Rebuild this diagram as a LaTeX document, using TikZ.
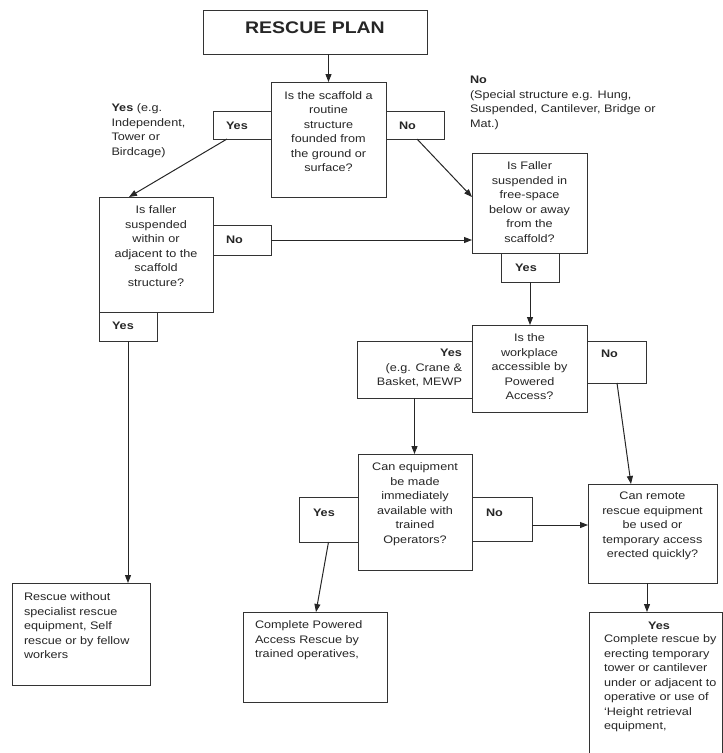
\documentclass[tikz,border=0pt]{standalone}
\usepackage{fontspec}
\setmainfont{Liberation Sans}[FakeStretch=1.16]
\usetikzlibrary{arrows.meta,calc}
\tikzset{
  bx/.style={draw=black!80, line width=1pt, rectangle, inner sep=0pt, outer sep=0pt, anchor=north west},
  txt/.style={inner sep=0pt, outer sep=0pt, text=black!85, font=\fontsize{10.9}{14.5}\selectfont},
  arr/.style={draw=black!85, line width=1pt, -{Triangle[length=8pt,width=6pt]}}
}
\newcommand{\mkbox}[5]{\node[bx, minimum width=#4pt-#2pt, minimum height=#5pt-#3pt] (#1) at (#2,#3) {};}
\begin{document}
\begin{tikzpicture}[x=1pt,y=-1pt]
\useasboundingbox (0,0) rectangle (723,753);
% boxes
\mkbox{title}{203}{10}{427}{54}
\mkbox{q1}{271}{82}{386}{197}
\mkbox{q1yes}{213}{111}{271}{139}
\mkbox{q1no}{386}{111}{444}{139}
\mkbox{q2}{99}{197}{213}{312}
\mkbox{q2no}{213}{225}{271}{255}
\mkbox{q2yes}{99}{312}{157}{341}
\mkbox{q3}{472}{153}{587}{253}
\mkbox{q3yes}{501}{253}{559}{282}
\mkbox{q4}{472}{325}{587}{412}
\mkbox{q4yes}{357}{341}{472}{398}
\mkbox{q4no}{587}{341}{646}{383}
\mkbox{q5}{358}{454}{472}{570}
\mkbox{q5yes}{299}{497}{358}{542}
\mkbox{q5no}{472}{497}{532}{541}
\mkbox{q6}{588}{484}{717}{583}
\mkbox{r1}{12}{583}{150}{685}
\mkbox{r2}{243}{612}{387}{702}
\mkbox{r3}{589}{612}{722}{756}
% texts
\node[txt, anchor=base, font=\fontsize{16.8}{18}\selectfont\bfseries] (titlet) at (315,33) {RESCUE PLAN};
\node[txt, anchor=north, align=center] (q1t) at (328.5,91.5) {Is the scaffold a\\routine\\structure\\founded from\\the ground or\\surface?};
\node[txt, anchor=base west] (q1yest) at (226,129) {\bfseries Yes};
\node[txt, anchor=base west] (q1not) at (399,129) {\bfseries No};
\node[txt, anchor=north, align=center] (q2t) at (156,206) {Is faller\\suspended\\within or\\adjacent to the\\scaffold\\structure?};
\node[txt, anchor=base west] (q2not) at (226,243.5) {\bfseries No};
\node[txt, anchor=base west] (q2yest) at (112,329) {\bfseries Yes};
\node[txt, anchor=north, align=center] (q3t) at (529.5,162) {Is Faller\\suspended in\\free-space\\below or away\\from the\\scaffold?};
\node[txt, anchor=base west] (q3yest) at (515,271) {\bfseries Yes};
\node[txt, anchor=north, align=center] (q4t) at (529.5,334) {Is the\\workplace\\accessible by\\Powered\\Access?};
\node[txt, anchor=north east, align=right] (q4yest) at (462,349) {\textbf{Yes}\\(e.g. Crane \&\\Basket, MEWP};
\node[txt, anchor=base west] (q4not) at (601,357) {\bfseries No};
\node[txt, anchor=north, align=center] (q5t) at (415,463) {Can equipment\\be made\\immediately\\available with\\trained\\Operators?};
\node[txt, anchor=base west] (q5yest) at (313,516) {\bfseries Yes};
\node[txt, anchor=base west] (q5not) at (486,516) {\bfseries No};
\node[txt, anchor=north, align=center] (q6t) at (652.5,492) {Can remote\\rescue equipment\\be used or\\temporary access\\erected quickly?};
\node[txt, anchor=north west, align=left] (r1t) at (24,593) {Rescue without\\specialist rescue\\equipment, Self\\rescue or by fellow\\workers};
\node[txt, anchor=north west, align=left] (r2t) at (255,621) {Complete Powered\\Access Rescue by\\trained operatives,};
\node[txt, anchor=base] (r3yes) at (659,629) {\bfseries Yes};
\node[txt, anchor=north west, align=left] (r3t) at (604,635) {Complete rescue by\\erecting temporary\\tower or cantilever\\under or adjacent to\\operative or use of\\‘Height retrieval\\equipment,};
\node[txt, anchor=north west, align=left] (yesnote) at (111.5,104) {\textbf{Yes} (e.g.\\Independent,\\Tower or\\Birdcage)};
\node[txt, anchor=north west, align=left] (nonote) at (470,76) {\textbf{No}\\(Special structure e.g. Hung,\\Suspended, Cantilever, Bridge or\\Mat.)};
% connectors
\draw[arr] (title.south -| q1.north) -- (q1.north);
\draw[arr] ($(q1yes.south west)+(14,0)$) -- ($(q2.north west)+(30,0)$);
\draw[arr] ($(q1no.south west)+(31,0)$) -- ($(q3.north west)+(0,44)$);
\draw[arr] (q2no.east) -- (q2no.east -| q3.west);
\draw[arr] (q2yes.south) -- (q2yes.south |- r1.north);
\draw[arr] (q3yes.south) -- (q3yes.south |- q4.north);
\draw[arr] (q4yes.south) -- (q4yes.south |- q5.north);
\draw[arr] ($(q4no.south west)+(30,0)$) -- ($(q6.north west)+(43,0)$);
\coordinate (q5nox) at ($(q5no.east)+(0,6)$);
\draw[arr] (q5nox) -- (q5nox -| q6.west);
\draw[arr] (q5yes.south) -- ($(r2.north west)+(73,0)$);
\coordinate (q6x) at ($(q6.south west)+(59,0)$);
\draw[arr] (q6x) -- (q6x |- r3.north);
\end{tikzpicture}
\end{document}
